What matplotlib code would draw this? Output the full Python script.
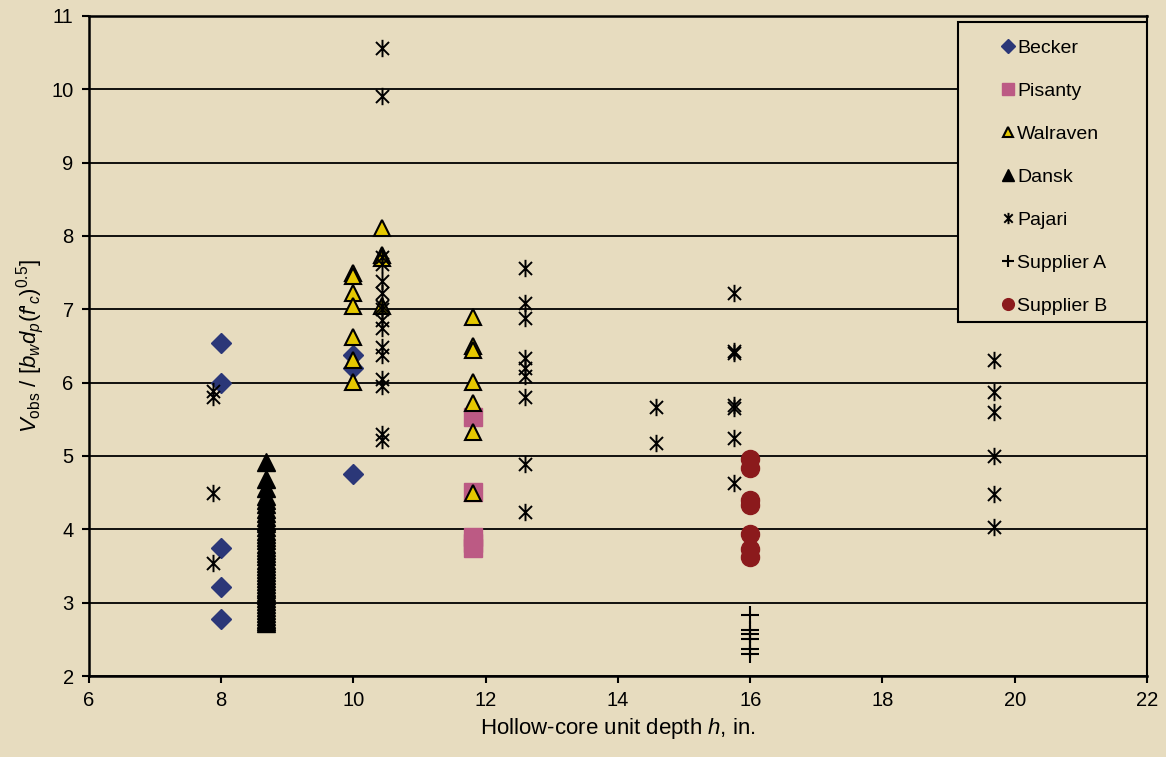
import matplotlib
matplotlib.use("Agg")
import matplotlib.pyplot as plt
from matplotlib.path import Path
from matplotlib.patches import Rectangle

# ---- data: unit depth h (in.) and normalised shear strength ----
becker_x = [8.0, 8.0, 8.0, 8.0, 8.0, 10.0, 10.0, 10.0]
becker_y = [6.54, 6.00, 3.75, 3.21, 2.78, 6.38, 6.20, 4.75]

pisanty_x = [11.81, 11.81, 11.81, 11.81, 11.81]
pisanty_y = [5.53, 4.51, 3.90, 3.82, 3.74]

walraven_x = [10.0, 10.0, 10.0, 10.0, 10.0, 10.0, 10.0,
              10.43, 10.43, 10.43, 10.43,
              11.81, 11.81, 11.81, 11.81, 11.81, 11.81, 11.81]
walraven_y = [7.50, 7.45, 7.22, 7.05, 6.62, 6.31, 6.01,
              8.11, 7.74, 7.70, 7.05,
              6.90, 6.50, 6.45, 6.01, 5.72, 5.33, 4.49]

dansk_y = [4.92, 4.68, 4.56, 4.45, 4.40, 4.34, 4.28, 4.22, 4.17, 4.12,
           4.08, 4.03, 3.98, 3.94, 3.90, 3.85, 3.80, 3.76, 3.72, 3.68,
           3.63, 3.58, 3.54, 3.50, 3.46, 3.42, 3.38, 3.34, 3.30, 3.26,
           3.22, 3.18, 3.14, 3.10, 3.06, 3.02, 2.98, 2.94, 2.90, 2.86,
           2.82, 2.78, 2.75, 2.72]
dansk_x = [8.67] * len(dansk_y)

pajari_x = [7.87, 7.87, 7.87, 7.87,
            10.43, 10.43, 10.43, 10.43, 10.43, 10.43, 10.43, 10.43,
            10.43, 10.43, 10.43, 10.43, 10.43, 10.43, 10.43, 10.43,
            12.60, 12.60, 12.60, 12.60, 12.60, 12.60, 12.60, 12.60, 12.60,
            14.57, 14.57,
            15.75, 15.75, 15.75, 15.75, 15.75, 15.75, 15.75,
            19.69, 19.69, 19.69, 19.69, 19.69, 19.69]
pajari_y = [5.88, 5.80, 4.50, 3.54,
            10.56, 9.91, 7.71, 7.62, 7.38, 7.22, 7.05, 7.00,
            6.85, 6.75, 6.48, 6.38, 6.05, 5.95, 5.30, 5.22,
            7.56, 7.09, 6.88, 6.33, 6.20, 6.09, 5.80, 4.89, 4.24,
            5.67, 5.18,
            7.22, 6.43, 6.40, 5.69, 5.66, 5.24, 4.63,
            6.31, 5.87, 5.60, 5.00, 4.48, 4.03]

supA_x = [16.0, 16.0, 16.0, 16.0, 16.0, 16.0]
supA_y = [2.83, 2.63, 2.57, 2.50, 2.37, 2.30]

supB_x = [16.0, 16.0, 16.0, 16.0, 16.0, 16.0, 16.0]
supB_y = [4.96, 4.83, 4.40, 4.33, 3.94, 3.73, 3.62]

x_ticks = [6, 8, 10, 12, 14, 16, 18, 20, 22]
y_ticks = [2, 3, 4, 5, 6, 7, 8, 9, 10, 11]

# ---- styling ----
BG = "#E7DCBF"
plt.rcParams["font.family"] = ["Liberation Sans", "DejaVu Sans"]
plt.rcParams["mathtext.fontset"] = "custom"
plt.rcParams["mathtext.rm"] = "Liberation Sans"
plt.rcParams["mathtext.it"] = "Liberation Sans:italic"
plt.rcParams["mathtext.bf"] = "Liberation Sans:bold"

# asterisk: vertical bar plus an X
asterisk = Path(
    [(0, -1), (0, 1), (-0.75, -0.75), (0.75, 0.75), (-0.75, 0.75), (0.75, -0.75)],
    [Path.MOVETO, Path.LINETO, Path.MOVETO, Path.LINETO, Path.MOVETO, Path.LINETO],
)

fig = plt.figure(figsize=(11.66, 7.57), dpi=100, facecolor=BG)
ax = fig.add_axes([0.0763, 0.107, 0.9074, 0.872])
ax.set_facecolor(BG)

ax.plot(becker_x, becker_y, ls="none", marker="D", ms=10.5, mfc="#2B3778",
        mec="#2B3778", label="Becker", zorder=3)
ax.plot(pisanty_x, pisanty_y, ls="none", marker="s", ms=12.5, mfc="#BC5A84",
        mec="#BC5A84", label="Pisanty", zorder=3)
ax.plot(walraven_x, walraven_y, ls="none", marker="^", ms=12, mfc="#E5C800",
        mec="black", mew=1.5, label="Walraven", zorder=3)
ax.plot(dansk_x, dansk_y, ls="none", marker="^", ms=12.5, mfc="black",
        mec="black", label="Dansk", zorder=3)
ax.plot(pajari_x, pajari_y, ls="none", marker=asterisk, ms=12.5, mfc="none",
        mec="black", mew=1.4, label="Pajari", zorder=3)
ax.plot(supA_x, supA_y, ls="none", marker="+", ms=12.5, mec="black",
        mew=1.5, label="Supplier A", zorder=3)
ax.plot(supB_x, supB_y, ls="none", marker="o", ms=13, mfc="#8B1A1C",
        mec="#8B1A1C", label="Supplier B", zorder=3)

ax.set_xlim(6, 22)
ax.set_ylim(2, 11)
ax.set_xticks(x_ticks)
ax.set_yticks(y_ticks)
ax.tick_params(direction="out", length=5, width=1.5, labelsize=14.5,
               colors="black", pad=6)
for y in y_ticks:
    ax.axhline(y, color="black", lw=1.3, zorder=1)
for side in ["left", "bottom", "right", "top"]:
    ax.spines[side].set_color("black")
    ax.spines[side].set_linewidth(1.8)
ax.spines["right"].set_linewidth(1.5)

ax.set_xlabel("Hollow-core unit depth $\\it{h}$, in.", fontsize=16, labelpad=4)
ax.set_ylabel(r"$V_{\mathrm{obs}}$ / [$b_wd_p$($f$'$_c$)$^{0.5}$]",
              fontsize=16, labelpad=4)

# legend box
box = Rectangle((0.821, 0.536), 0.179, 0.455, transform=ax.transAxes,
                facecolor=BG, edgecolor="black", lw=1.5, zorder=5)
ax.add_patch(box)
leg = ax.legend(loc="upper left", bbox_to_anchor=(0.8625, 0.965),
                frameon=False, fontsize=14, markerscale=0.65,
                handlelength=0.7, handletextpad=0.1, labelspacing=1.31,
                borderaxespad=0, borderpad=0)
leg.set_zorder(6)

fig.savefig("out.png", dpi=100, facecolor=BG)
